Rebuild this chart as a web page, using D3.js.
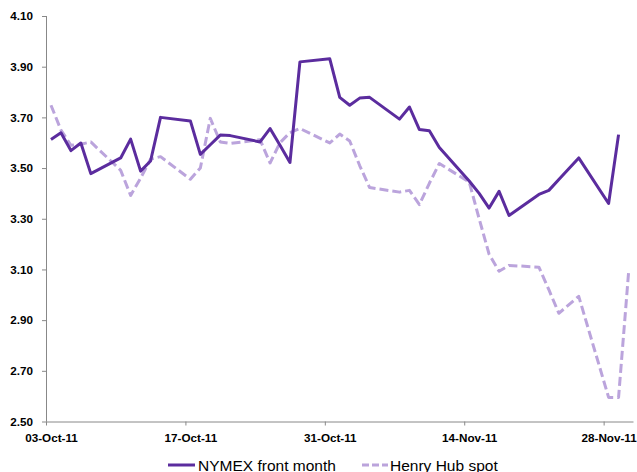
<!DOCTYPE html>
<html>
<head>
<meta charset="utf-8">
<script src="https://cdn.jsdelivr.net/npm/d3@7"></script>
<style>
  html, body { margin: 0; padding: 0; background: #fff; }
  svg { display: block; }
  .tick-label { font-family: "Liberation Sans", Arial, sans-serif; font-weight: bold; font-size: 11.7px; fill: #000; }
  .legend-label { font-family: "Liberation Sans", Arial, sans-serif; font-size: 15.5px; fill: #000; }
</style>
</head>
<body>
<script>
// Trading days, Oct 3 - Nov 30 2011 (no weekends, no Thanksgiving)
const tradingDays = [
  "2011-10-03","2011-10-04","2011-10-05","2011-10-06","2011-10-07",
  "2011-10-10","2011-10-11","2011-10-12","2011-10-13","2011-10-14",
  "2011-10-17","2011-10-18","2011-10-19","2011-10-20","2011-10-21",
  "2011-10-24","2011-10-25","2011-10-26","2011-10-27","2011-10-28",
  "2011-10-31","2011-11-01","2011-11-02","2011-11-03","2011-11-04",
  "2011-11-07","2011-11-08","2011-11-09","2011-11-10","2011-11-11",
  "2011-11-14","2011-11-15","2011-11-16","2011-11-17","2011-11-18",
  "2011-11-21","2011-11-22","2011-11-23","2011-11-25",
  "2011-11-28","2011-11-29","2011-11-30"
];

// NYMEX front month settlement, $/MMBtu
const nymexFrontMonth = [
  3.613, 3.639, 3.569, 3.599, 3.478,
  3.540, 3.614, 3.488, 3.528, 3.700,
  3.686, 3.554, 3.592, 3.630, 3.628,
  3.603, 3.656, 3.590, 3.522, 3.919,
  3.931, 3.779, 3.748, 3.776, 3.779,
  3.693, 3.741, 3.652, 3.647, 3.581,
  3.449, 3.400, 3.342, 3.408, 3.313,
  3.396, 3.412, 3.455, 3.540,
  3.360, 3.632, null
];

// Henry Hub spot, $/MMBtu
const henryHubSpot = [
  3.748, 3.650, 3.590, 3.594, 3.603,
  3.491, 3.392, 3.460, 3.535, 3.545,
  3.456, 3.500, 3.696, 3.603, 3.597,
  3.612, 3.520, 3.600, 3.640, 3.656,
  3.599, 3.634, 3.607, 3.510, 3.423,
  3.405, 3.412, 3.356, 3.440, 3.518,
  3.445, 3.300, 3.160, 3.093, 3.116,
  3.109, 3.020, 2.927, 2.994,
  2.595, 2.595, 3.085
];

const xTickDates = ["2011-10-03","2011-10-17","2011-10-31","2011-11-14","2011-11-28"];
const yTicks = [2.5, 2.7, 2.9, 3.1, 3.3, 3.5, 3.7, 3.9, 4.1];

const seriesNames = ["NYMEX front month", "Henry Hub spot"];
const seriesColors = ["#5b2c9e", "#bba4dc"];

const W = 637, H = 472;
const parse = d3.utcParse("%Y-%m-%d");
const DAY = 864e5;

const svg = d3.select("body").append("svg").attr("width", W).attr("height", H);

// Date axis: each calendar day is one band, points sit at mid-day
const x = d3.scaleUtc()
  .domain([parse("2011-10-03"), new Date(+parse("2011-11-30") + DAY)])
  .range([46, 633.5]);
const y = d3.scaleLinear().domain([2.5, 4.1]).range([421.5, 16]);

const mid = d => new Date(+d + DAY / 2);
const fmtDate = d3.utcFormat("%d-%b-%y");

// Y axis
const yAxis = svg.append("g").attr("transform", "translate(46,0)")
  .call(d3.axisLeft(y).tickValues(yTicks).tickSize(4).tickPadding(9).tickFormat(d3.format(".2f")));
yAxis.select(".domain").attr("stroke", "#888").attr("d", `M0.5,${y(4.1)}V${y(2.5)}`);
yAxis.selectAll(".tick line").attr("stroke", "#888").attr("x1", 0.5).attr("x2", -4);
yAxis.selectAll(".tick text").attr("class", "tick-label").attr("font-family", null).attr("font-size", null);

// X axis
const xAxis = svg.append("g").attr("transform", `translate(0,${y(2.5)})`)
  .call(d3.axisBottom(x).tickValues(xTickDates.map(parse)).tickSize(4).tickFormat(""));
xAxis.select(".domain").attr("stroke", "#888").attr("d", `M46,0.5H${x.range()[1]}`);
xAxis.selectAll(".tick line").attr("stroke", "#888");
xAxis.selectAll(".tick").append("text")
  .attr("class", "tick-label")
  .attr("text-anchor", "middle")
  .attr("x", d => x(mid(d)) - x(d))
  .attr("y", 20.5)
  .text(d => fmtDate(d));

// Series lines
const days = tradingDays.map(parse);
const line = vals => d3.line()
  .defined((d, i) => vals[i] != null)
  .x((d, i) => x(mid(days[i])))
  .y((d, i) => y(vals[i]))(days);

svg.append("path")
  .attr("d", line(henryHubSpot))
  .attr("fill", "none")
  .attr("stroke", seriesColors[1])
  .attr("stroke-width", 3)
  .attr("stroke-dasharray", "9,4")
  .attr("stroke-linejoin", "round");

svg.append("path")
  .attr("d", line(nymexFrontMonth))
  .attr("fill", "none")
  .attr("stroke", seriesColors[0])
  .attr("stroke-width", 3)
  .attr("stroke-linejoin", "round");

// Legend
const legend = svg.append("g");
const legendItems = [
  { x1: 168, x2: 195, tx: 198, dash: null },
  { x1: 362, x2: 388, tx: 390, dash: "7,3" }
];
legendItems.forEach((it, i) => {
  legend.append("line")
    .attr("x1", it.x1).attr("x2", it.x2).attr("y1", 465).attr("y2", 465)
    .attr("stroke", seriesColors[i]).attr("stroke-width", 3)
    .attr("stroke-dasharray", it.dash);
  legend.append("text")
    .attr("class", "legend-label")
    .attr("x", it.tx).attr("y", 470.5)
    .text(seriesNames[i]);
});
</script>
</body>
</html>
